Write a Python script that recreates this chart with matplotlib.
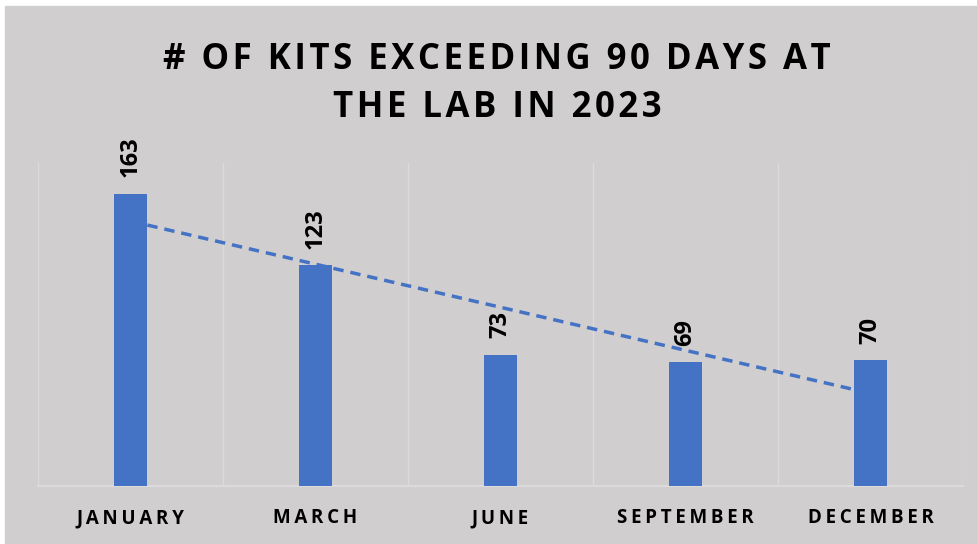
import matplotlib.pyplot as plt
import matplotlib.patches as mpatches
import numpy as np

# data
months = ["JANUARY", "MARCH", "JUNE", "SEPTEMBER", "DECEMBER"]
kits = [163, 123, 73, 69, 70]
title = "# OF KITS EXCEEDING 90 DAYS AT\nTHE LAB IN 2023"

bg = "#d0cece"
blue = "#4472c4"
grid_col = "#dcdada"
fam = ["Open Sans", "DejaVu Sans"]


def spaced(s, sp="\u200a"):
    # fake letter spacing
    return "\n".join(sp.join(line) for line in s.split("\n"))


fig = plt.figure(figsize=(9.77, 5.44), dpi=100, facecolor="white")
# gray chart area (thin white margin on top/left like the screenshot)
fig.patches.append(mpatches.Rectangle((5 / 977, 0), 1, 1 - 6 / 544,
                                      transform=fig.transFigure, color=bg, zorder=-10))

ax = fig.add_axes([38 / 977, 1 - 486 / 544, 925 / 977, 323 / 544])
ax.set_facecolor("none")

x = np.arange(len(months))
ax.bar(x, kits, width=0.18, color=blue, zorder=3)

# linear trendline
slope, intercept = np.polyfit(x, kits, 1)
ax.plot(x, slope * x + intercept, color=blue, lw=2.5, ls=(0, (3, 2)), zorder=2)

# data labels
for xi, v in zip(x, kits):
    ax.annotate(str(v), (xi, v), xytext=(0, 12), textcoords="offset points",
                rotation=90, ha="center", va="bottom", fontsize=17,
                fontweight="bold", family=fam)

ax.set_xlim(-0.5, len(months) - 0.5)
ax.set_ylim(0, 180)

# vertical gridlines between categories
for b in np.arange(-0.5, len(months), 1):
    ax.axvline(b, color=grid_col, lw=1, zorder=1)

for s in ["top", "right", "left"]:
    ax.spines[s].set_visible(False)
ax.spines["bottom"].set_color(grid_col)
ax.spines["bottom"].set_linewidth(1.5)
ax.set_yticks([])
ax.set_xticks(x)
ax.set_xticklabels([spaced(m, "\u2009") for m in months], fontsize=13.5,
                   fontweight="bold", family=fam)
ax.tick_params(axis="x", length=0, pad=16)

fig.text(497 / 977, 1 - 84 / 544, spaced(title),
         ha="center", va="center", fontsize=25, fontweight="bold",
         family=fam, linespacing=1.45)

fig.savefig("out.png", dpi=100, facecolor=fig.get_facecolor())
